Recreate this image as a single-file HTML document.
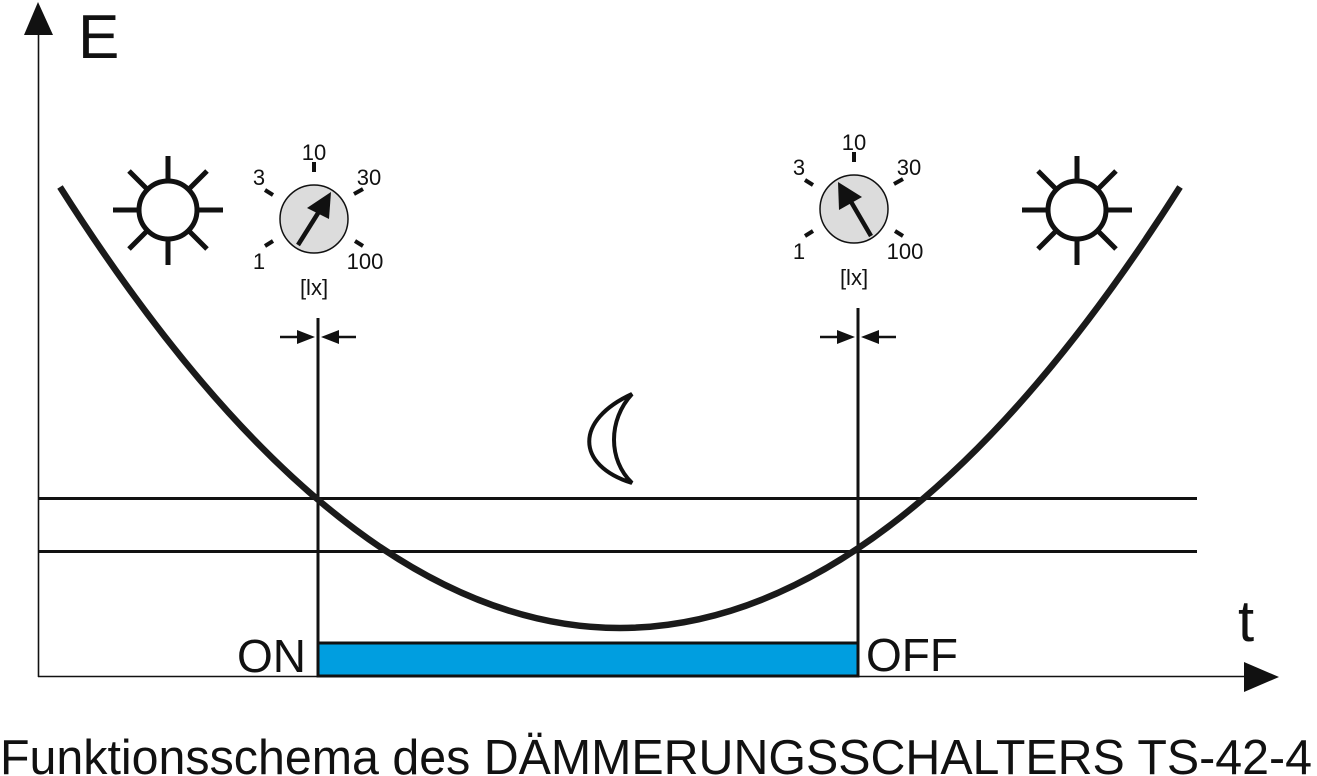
<!DOCTYPE html>
<html><head><meta charset="utf-8"><style>html,body{margin:0;padding:0;background:#fff}svg{display:block}</style></head>
<body>
<svg width="1317" height="776" viewBox="0 0 1317 776" xmlns="http://www.w3.org/2000/svg" font-family="Liberation Sans, Arial, sans-serif">
<line x1="38.5" y1="30" x2="38.5" y2="677" stroke="#111" stroke-width="1.6"/>
<polygon points="38,2 24,35 53,35" fill="#111"/>
<line x1="38" y1="676.5" x2="1250" y2="676.5" stroke="#111" stroke-width="1.6"/>
<polygon points="1279,677 1244,662 1244,692" fill="#111"/>
<text x="78" y="58" font-size="62" fill="#111">E</text>
<text x="1238" y="641" font-size="58" fill="#111">t</text>
<line x1="38" y1="498.5" x2="1197" y2="498.5" stroke="#111" stroke-width="3"/>
<line x1="38" y1="551.5" x2="1197" y2="551.5" stroke="#111" stroke-width="3"/>
<rect x="318" y="643" width="540" height="33" fill="#009ee0" stroke="#111" stroke-width="3"/>
<line x1="318" y1="318" x2="318" y2="677" stroke="#111" stroke-width="3"/>
<line x1="858" y1="308" x2="858" y2="677" stroke="#111" stroke-width="3"/>
<path d="M60,187 Q620,1069 1180,187" fill="none" stroke="#1a1a1a" stroke-width="6.5"/>
<text x="237" y="672" font-size="46" fill="#111">ON</text>
<text x="866" y="671" font-size="46" fill="#111">OFF</text>
<text x="0" y="774" font-size="49" fill="#111" textLength="1312" lengthAdjust="spacingAndGlyphs">Funktionsschema des DÄMMERUNGSSCHALTERS TS-42-4</text>
<g stroke="#111" stroke-width="2.5" fill="#111">
<line x1="280" y1="337" x2="300" y2="337"/><polygon points="315,337 297,330 297,344" stroke="none"/>
<line x1="336" y1="337" x2="356" y2="337"/><polygon points="321,337 339,330 339,344" stroke="none"/>
<line x1="820" y1="337" x2="840" y2="337"/><polygon points="855,337 837,330 837,344" stroke="none"/>
<line x1="876" y1="337" x2="896" y2="337"/><polygon points="861,337 879,330 879,344" stroke="none"/>
</g>
<g stroke="#111" stroke-width="5" fill="none">
<circle cx="168" cy="210" r="29"/>
<path d="M168,156V181M168,239V265M113,210H139M197,210H223M129,171L147,189M189,231L207,249M207,171L189,189M147,231L129,249"/>
<circle cx="1077" cy="210" r="29"/>
<path d="M1077,156V181M1077,239V265M1022,210H1048M1106,210H1132M1038,171L1056,189M1098,231L1116,249M1116,171L1098,189M1056,231L1038,249"/>
</g>
<path d="M632,394 C575,420 575,465 632,483 C608,460 608,420 632,394 Z" fill="none" stroke="#111" stroke-width="4"/>
<g>
<circle cx="314" cy="219" r="34" fill="#dcdcdc" stroke="#111" stroke-width="1.5"/>
<g stroke="#111" stroke-width="4">
<line x1="314" y1="162" x2="314" y2="172"/><line x1="265" y1="190" x2="273" y2="195"/><line x1="354" y1="194" x2="363" y2="189"/><line x1="265" y1="246" x2="273" y2="241"/><line x1="355" y1="241" x2="363" y2="246"/>
<line x1="298" y1="245" x2="320" y2="210" stroke-width="4.5"/>
</g>
<polygon points="331,192 307,208 329,219" fill="#111"/>
<g font-size="22" fill="#111" text-anchor="middle">
<text x="314" y="160">10</text><text x="259" y="185">3</text><text x="369" y="185">30</text><text x="259" y="269">1</text><text x="365" y="269">100</text><text x="314" y="295">[lx]</text>
</g>
</g>
<g>
<circle cx="854" cy="209" r="34" fill="#dcdcdc" stroke="#111" stroke-width="1.5"/>
<g stroke="#111" stroke-width="4">
<line x1="854" y1="152" x2="854" y2="162"/><line x1="805" y1="180" x2="813" y2="185"/><line x1="894" y1="184" x2="903" y2="179"/><line x1="805" y1="236" x2="813" y2="231"/><line x1="895" y1="231" x2="903" y2="236"/>
<line x1="871" y1="236" x2="850" y2="200" stroke-width="4.5"/>
</g>
<polygon points="838,182 839,210 862,197" fill="#111"/>
<g font-size="22" fill="#111" text-anchor="middle">
<text x="854" y="150">10</text><text x="799" y="175">3</text><text x="909" y="175">30</text><text x="799" y="259">1</text><text x="905" y="259">100</text><text x="854" y="285">[lx]</text>
</g>
</g>
</svg>
</body></html>
